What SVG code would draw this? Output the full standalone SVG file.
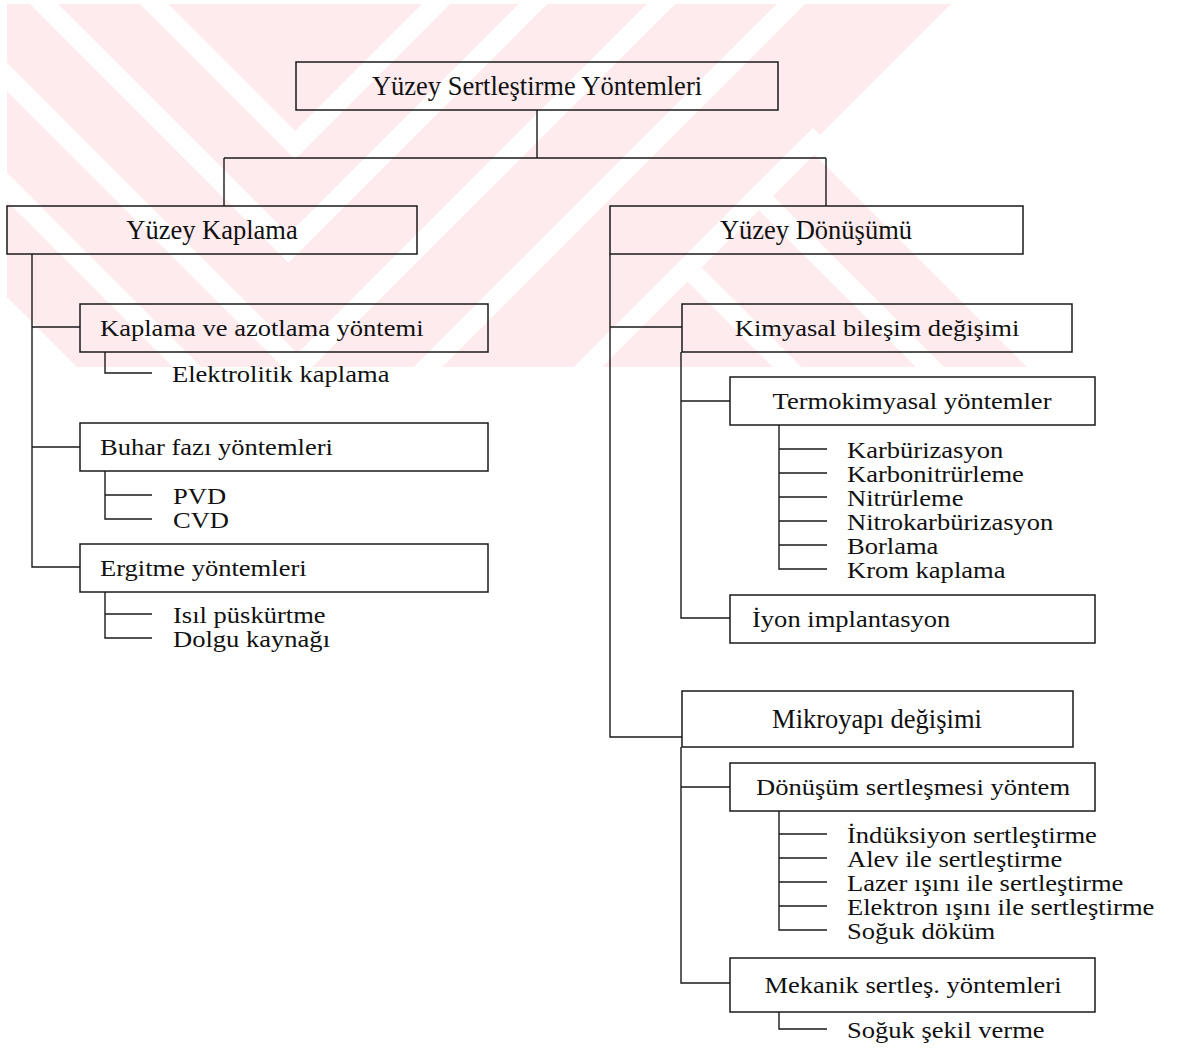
<svg xmlns="http://www.w3.org/2000/svg" width="1178" height="1049" viewBox="0 0 1178 1049">
<style>
.bx{fill:none;stroke:#1a1a1a;stroke-width:1.5}
.ln{fill:none;stroke:#1a1a1a;stroke-width:1.4}
.t1{font-family:"Liberation Serif","Times New Roman",serif;font-size:26.5px;fill:#111;text-anchor:middle}
.t2{font-family:"Liberation Serif","Times New Roman",serif;font-size:23.5px;fill:#111}
.c{text-anchor:middle}
.wm{fill:none;stroke:#fff;stroke-width:20;stroke-linejoin:miter;stroke-miterlimit:10}
</style>
<defs>
<clipPath id="wclip"><rect x="7" y="4" width="1023" height="363"/></clipPath>
</defs>
<rect width="1178" height="1049" fill="#fff"/>
<g id="watermark" clip-path="url(#wclip)">
<polygon points="7,4 951,4 807.5,147.5 1027,367 77,367 7,297" fill="#fdebee"/>
<polyline class="wm" points="130,-20 295,145 460,-20"/>
<polyline class="wm" points="20,-20 288.5,248.5 557,-20"/>
<polyline class="wm" points="-90,-20 297.5,367.5 685,-20"/>
<polyline class="wm" points="-200,-20 307.5,487.5 815,-20"/>
<line class="wm" x1="820" y1="135" x2="500" y2="455"/>
<line class="wm" x1="759" y1="196" x2="1000" y2="437"/>
<line class="wm" x1="687.5" y1="267.5" x2="900" y2="480"/>
</g>
<g id="connectors">
<path class="ln" d="M537,110V158M224,158H826M224,158V206M826,158V206"/>
<path class="ln" d="M32,254V567H80M32,327H80M32,447H80"/>
<path class="ln" d="M105,352V373H152"/>
<path class="ln" d="M105,471V519H152M105,495H152"/>
<path class="ln" d="M105,592V638H152M105,614H152"/>
<path class="ln" d="M610,254V737H682M610,327H682"/>
<path class="ln" d="M681,352V618H730M681,401H730"/>
<path class="ln" d="M779,425V569H827M779,449H827M779,473H827M779,497H827M779,521H827M779,545H827"/>
<path class="ln" d="M681,747V983H730M681,787H730"/>
<path class="ln" d="M779,811V930H827M779,834H827M779,858H827M779,882H827M779,906H827"/>
<path class="ln" d="M779,1012V1029H827"/>
</g>
<g id="n-root"><rect class="bx" x="296" y="62" width="482" height="48"/><text class="t1" x="537" y="95">Yüzey Sertleştirme Yöntemleri</text></g>
<g id="n-kaplama"><rect class="bx" x="7" y="206" width="410" height="48"/><text class="t1" x="212" y="239">Yüzey Kaplama</text></g>
<g id="n-donusum"><rect class="bx" x="610" y="206" width="413" height="48"/><text class="t1" x="816" y="239">Yüzey Dönüşümü</text></g>
<g id="n-kaz"><rect class="bx" x="80" y="304" width="408" height="48"/><text class="t2" transform="translate(100,336) scale(1.13,1)">Kaplama ve azotlama yöntemi</text></g>
<g id="n-elektrolitik"><text class="t2" transform="translate(172,382) scale(1.13,1)">Elektrolitik kaplama</text></g>
<g id="n-buhar"><rect class="bx" x="80" y="423" width="408" height="48"/><text class="t2" transform="translate(100,455) scale(1.13,1)">Buhar fazı yöntemleri</text></g>
<g id="n-pvd"><text class="t2" transform="translate(173,504) scale(1.13,1)">PVD</text></g>
<g id="n-cvd"><text class="t2" transform="translate(173,528) scale(1.13,1)">CVD</text></g>
<g id="n-ergitme"><rect class="bx" x="80" y="544" width="408" height="48"/><text class="t2" transform="translate(100,576) scale(1.13,1)">Ergitme yöntemleri</text></g>
<g id="n-isil"><text class="t2" transform="translate(173,623) scale(1.13,1)">Isıl püskürtme</text></g>
<g id="n-dolgu"><text class="t2" transform="translate(173,647) scale(1.13,1)">Dolgu kaynağı</text></g>
<g id="n-kimyasal"><rect class="bx" x="682" y="304" width="390" height="48"/><text class="t2 c" transform="translate(877,336) scale(1.13,1)">Kimyasal bileşim değişimi</text></g>
<g id="n-termo"><rect class="bx" x="730" y="377" width="365" height="48"/><text class="t2 c" transform="translate(912,409) scale(1.13,1)">Termokimyasal yöntemler</text></g>
<g id="n-karb"><text class="t2" transform="translate(847,458) scale(1.13,1)">Karbürizasyon</text></g>
<g id="n-karbonit"><text class="t2" transform="translate(847,482) scale(1.13,1)">Karbonitrürleme</text></g>
<g id="n-nitr"><text class="t2" transform="translate(847,506) scale(1.13,1)">Nitrürleme</text></g>
<g id="n-nitrokarb"><text class="t2" transform="translate(847,530) scale(1.13,1)">Nitrokarbürizasyon</text></g>
<g id="n-borlama"><text class="t2" transform="translate(847,554) scale(1.13,1)">Borlama</text></g>
<g id="n-krom"><text class="t2" transform="translate(847,578) scale(1.13,1)">Krom kaplama</text></g>
<g id="n-iyon"><rect class="bx" x="730" y="595" width="365" height="48"/><text class="t2" transform="translate(752,627) scale(1.13,1)">İyon implantasyon</text></g>
<g id="n-mikro"><rect class="bx" x="682" y="691" width="391" height="56"/><text class="t1" x="877" y="728">Mikroyapı değişimi</text></g>
<g id="n-donsert"><rect class="bx" x="730" y="763" width="365" height="48"/><text class="t2 c" transform="translate(913,795) scale(1.13,1)">Dönüşüm sertleşmesi yöntem</text></g>
<g id="n-induksiyon"><text class="t2" transform="translate(847,843) scale(1.13,1)">İndüksiyon sertleştirme</text></g>
<g id="n-alev"><text class="t2" transform="translate(847,867) scale(1.13,1)">Alev ile sertleştirme</text></g>
<g id="n-lazer"><text class="t2" transform="translate(847,891) scale(1.13,1)">Lazer ışını ile sertleştirme</text></g>
<g id="n-elektron"><text class="t2" transform="translate(847,915) scale(1.13,1)">Elektron ışını ile sertleştirme</text></g>
<g id="n-soguk-dokum"><text class="t2" transform="translate(847,939) scale(1.13,1)">Soğuk döküm</text></g>
<g id="n-mekanik"><rect class="bx" x="730" y="958" width="365" height="54"/><text class="t2 c" transform="translate(913,993) scale(1.13,1)">Mekanik sertleş. yöntemleri</text></g>
<g id="n-soguk-sekil"><text class="t2" transform="translate(847,1038) scale(1.13,1)">Soğuk şekil verme</text></g>
</svg>
